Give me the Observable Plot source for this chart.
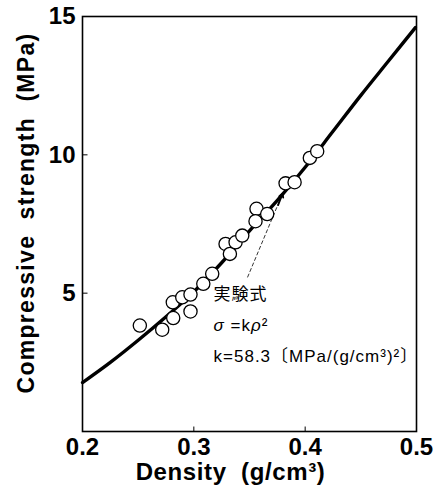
<!DOCTYPE html>
<html>
<head>
<meta charset="utf-8">
<script src="https://cdn.jsdelivr.net/npm/d3@7"></script>
<script src="https://cdn.jsdelivr.net/npm/@observablehq/plot@0.6"></script>
<style>
  html, body { margin: 0; padding: 0; background: #fff; }
  #chart svg { display: block; }
</style>
</head>
<body>
<div id="chart"></div>
<script>
// Measured points: density (g/cm3) and compressive strength (MPa)
const density = [0.2515, 0.2716, 0.2815, 0.2811, 0.2896, 0.297, 0.297, 0.3085, 0.3165,
  0.3285, 0.3324, 0.3375, 0.3435, 0.3563, 0.3554, 0.3659, 0.3824, 0.3905, 0.4042, 0.4108];
const strength = [3.83, 3.68, 4.10, 4.67, 4.85, 4.95, 4.34, 5.34, 5.70,
  6.78, 6.42, 6.84, 7.08, 8.05, 7.60, 7.86, 8.97, 9.01, 9.89, 10.13];

// Fitted curve
const curveX = [0.200, 0.225, 0.250, 0.275, 0.300, 0.325, 0.350, 0.375, 0.400, 0.425,
  0.450, 0.475, 0.499];
const curveY = [1.77, 2.50, 3.30, 4.15, 5.05, 6.10, 7.25, 8.35, 9.55, 10.85,
  12.15, 13.40, 14.60];

const xTicks = [0.2, 0.3, 0.4, 0.5];
const yTicks = [5, 10, 15];
const xLabel = "Density  (g/cm³)";
const yLabel = "Compressive  strength  (MPa)";
const noteLines = ["実験式", "σ =kρ²", "k=58.3〔MPa/(g/cm³)²〕"];
const noteY = [4.95, 3.83, 2.71];
const noteX = 0.3177;
const leader = [{x1: 0.3482, y1: 5.57, x2: 0.3797, y2: 8.60}];

const points = density.map((d, i) => ({x: d, y: strength[i]}));
const curve = curveX.map((d, i) => ({x: d, y: curveY[i]}));
const notes = noteLines.map((t, i) => ({t, x: noteX, y: noteY[i]}));

const font = "'Liberation Sans', Arial, Helvetica, sans-serif";

const chart = Plot.plot({
  width: 447,
  height: 491,
  marginLeft: 82,
  marginRight: 31,
  marginTop: 16,
  marginBottom: 60,
  style: {fontFamily: font, background: "#fff", color: "#000", overflow: "visible"},
  x: {domain: [0.2, 0.5]},
  y: {domain: [0, 15]},
  marks: [
    Plot.frame({stroke: "#000", strokeWidth: 1.6}),
    Plot.axisX({ticks: xTicks, tickSize: 0, tickPadding: 6, tickFormat: d => d.toFixed(1),
      fontSize: 24, fontWeight: "bold", label: null}),
    Plot.link(xTicks.slice(1, -1), {x1: d => d, x2: d => d, y1: 0, y2: 0.18, stroke: "#000", strokeWidth: 1}),
    Plot.axisY({ticks: yTicks, tickSize: 0, tickPadding: 7, fontSize: 24, fontWeight: "bold", label: null}),
    Plot.link(yTicks.slice(0, -1), {x1: 0.2, x2: 0.2045, y1: d => d, y2: d => d, stroke: "#000", strokeWidth: 1}),
    Plot.line(curve, {x: "x", y: "y", curve: "monotone-x", stroke: "#000", strokeWidth: 3.4}),
    Plot.link(leader, {x1: "x1", y1: "y1", x2: "x2", y2: "y2", stroke: "#000", strokeWidth: 0.8,
      strokeDasharray: "4 2"}),
    Plot.arrow(leader, {x1: d => d.x2 - 0.004, y1: d => d.y2 - 0.42, x2: "x2", y2: "y2",
      stroke: "#000", strokeWidth: 1.8, headLength: 9}),
    Plot.dot(points, {x: "x", y: "y", r: 6.6, fill: "#fff", stroke: "#000", strokeWidth: 1.3}),
    Plot.text(notes, {x: "x", y: "y", text: "t", textAnchor: "start", fontSize: 17,
      fontFamily: "'Liberation Sans', 'Noto Sans CJK JP', sans-serif", fill: "#000"}),
    Plot.text([xLabel], {frameAnchor: "bottom", textAnchor: "middle", dx: -19, dy: 48, fontSize: 24,
      fontWeight: "bold", fill: "#000", text: d => d}),
    Plot.text([yLabel], {frameAnchor: "left", textAnchor: "middle", dx: -56, dy: -11, rotate: -90,
      fontSize: 23, fontWeight: "bold", fill: "#000", text: d => d})
  ]
});
chart.querySelectorAll("text").forEach(t => {
  const s = t.textContent;
  if (s === yLabel) t.setAttribute("letter-spacing", "1.3");
  if (s === xLabel) t.setAttribute("letter-spacing", "0.6");
  if (noteLines.includes(s)) t.setAttribute("letter-spacing", "1");
  if (s === noteLines[1]) {
    t.textContent = "";
    for (const ch of s) {
      const ts = document.createElementNS("http://www.w3.org/2000/svg", "tspan");
      ts.textContent = ch;
      if (ch === "σ" || ch === "ρ") ts.setAttribute("font-style", "italic");
      t.appendChild(ts);
    }
  }
});
document.getElementById("chart").appendChild(chart);
</script>
</body>
</html>
